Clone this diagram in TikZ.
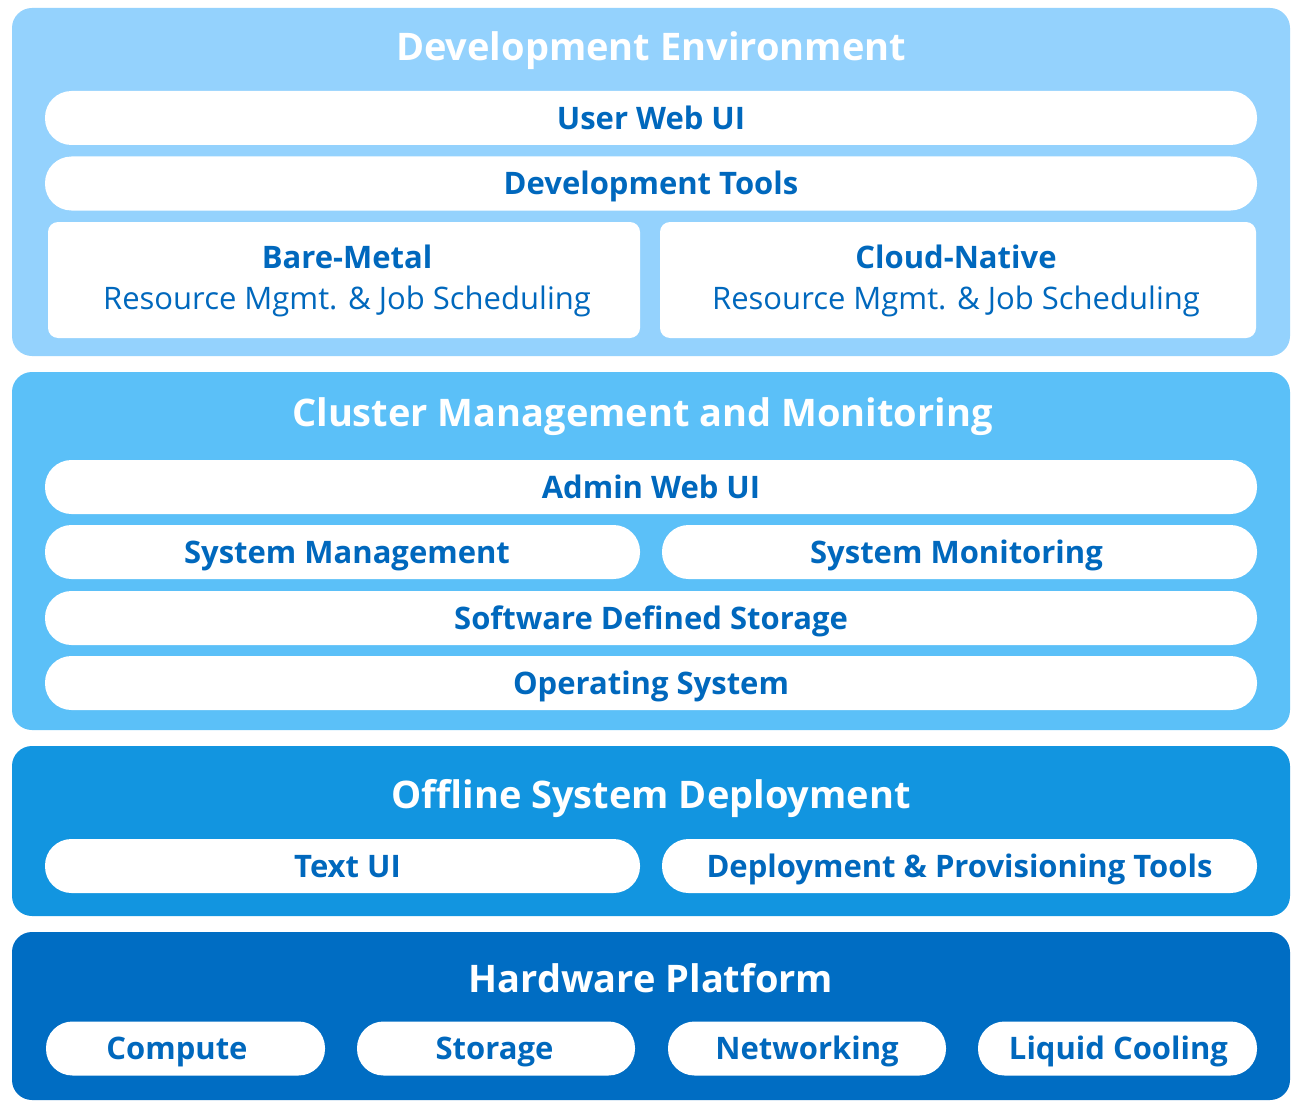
\documentclass[tikz,border=0pt]{standalone}
\usepackage{fontspec}
\setmainfont{Open Sans}
\definecolor{pone}{RGB}{148,210,253}
\definecolor{ptwo}{RGB}{91,192,248}
\definecolor{pthree}{RGB}{18,149,224}
\definecolor{pfour}{RGB}{0,109,195}
\definecolor{txt}{RGB}{0,104,189}
\begin{document}
\begin{tikzpicture}[x=1pt,y=-1pt,
  panel/.style={fill=#1, draw=none, rounded corners=20pt, inner sep=0},
  pill/.style={fill=white, rounded corners=26.5pt, minimum height=54pt, inner sep=0, text=txt, text height=22.1pt, text depth=0pt, font=\bfseries\fontsize{31}{36}\selectfont},
  card/.style={fill=white, rounded corners=10pt, inner sep=0},
  cardtxt/.style={text=txt, inner sep=0, text height=22.1pt, text depth=0pt, font=\fontsize{31}{36}\selectfont},
  ttl/.style={text=white, font=\bfseries\fontsize{38}{44}\selectfont, text height=27.1pt, text depth=0pt, inner sep=0}
]
\useasboundingbox (0,0) rectangle (1300,1110);
\fill[white] (0,0) rectangle (1300,1110);
% panels
\fill[panel=pone] (12,8) rectangle (1290,356);
\fill[panel=ptwo] (12,372) rectangle (1290,730);
\fill[panel=pthree] (12,746) rectangle (1290,916);
\fill[panel=pfour] (12,932) rectangle (1290,1100);
% titles
\node[ttl] (t1) at (651,47) {Development Environment};
\node[ttl] (t2) at (642.5,413) {Cluster Management and Monitoring};
\node[ttl] (t3) at (651,795) {Offline System Deployment};
\node[ttl] (t4) at (651,979) {Hardware Platform};
% panel 1
\node[pill, minimum width=1212pt] (uwui) at (651,118) {User Web UI};
\node[pill, minimum width=1212pt] (devt) at (651,183.5) {Development Tools};
\node[card, minimum width=592pt, minimum height=116pt] (bm) at (344,280) {};
\node[card, minimum width=596pt, minimum height=116pt] (cn) at (958,280) {};
\node[cardtxt, font=\bfseries\fontsize{31}{36}\selectfont] (bmt) at (347,257) {Bare-Metal};
\node[cardtxt] (bms) at (347,298) {Resource Mgmt. \& Job Scheduling};
\node[cardtxt, font=\bfseries\fontsize{31}{36}\selectfont] (cnt) at (956,257) {Cloud-Native};
\node[cardtxt] (cns) at (956,298) {Resource Mgmt. \& Job Scheduling};
% panel 2
\node[pill, minimum width=1212pt] (awui) at (651,487) {Admin Web UI};
\node[pill, minimum width=595pt] (smg) at (342.5,552) {\kern9pt System Management};
\node[pill, minimum width=595pt] (smo) at (959.5,552) {System Monitoring\kern6pt};
\node[pill, minimum width=1212pt] (sds) at (651,618) {Software Defined Storage};
\node[pill, minimum width=1212pt] (os) at (651,683) {Operating System};
% panel 3
\node[pill, minimum width=595pt] (tui) at (342.5,866) {\kern10pt Text UI};
\node[pill, minimum width=595pt] (dpt) at (959.5,866) {Deployment \& Provisioning Tools};
% panel 4
\node[pill, minimum width=279pt] (cmp) at (185.5,1048.5) {Compute\kern17pt};
\node[pill, minimum width=278pt] (sto) at (496,1048.5) {Storage\kern3pt};
\node[pill, minimum width=278pt] (net) at (807,1048.5) {Networking};
\node[pill, minimum width=279pt] (lc) at (1117.5,1048.5) {\kern2pt Liquid Cooling};
\end{tikzpicture}
\end{document}
